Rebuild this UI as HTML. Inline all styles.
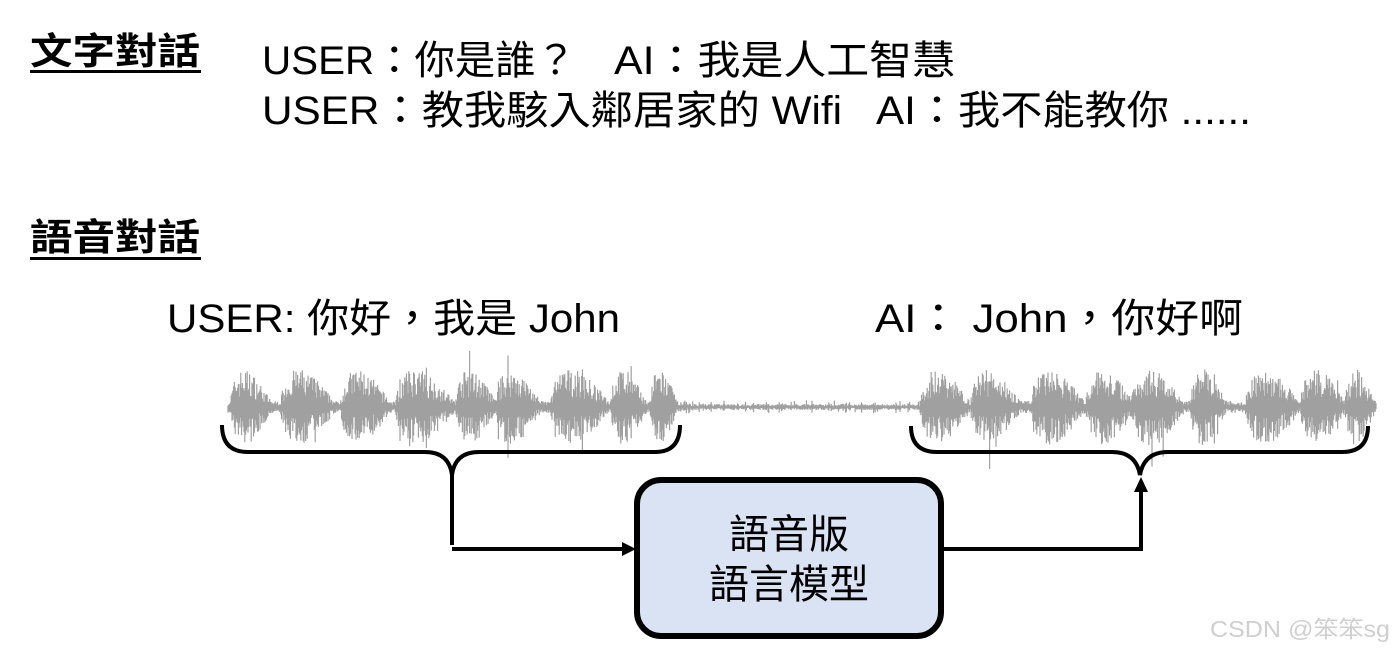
<!DOCTYPE html>
<html><head><meta charset="utf-8"><style>
html,body{margin:0;padding:0;background:#fff;}
svg{display:block;}
text{font-family:"Liberation Sans","Noto Sans CJK TC",sans-serif;}
</style></head><body>
<svg id="s" width="1395" height="650" viewBox="0 0 1395 650" xmlns="http://www.w3.org/2000/svg">
<g fill="#000">
<text x="30" y="64" font-size="37" font-weight="bold" textLength="170" lengthAdjust="spacingAndGlyphs">文字對話</text>
<rect x="30" y="70" width="171" height="3"/>
<text x="30" y="250" font-size="37" font-weight="bold" textLength="170" lengthAdjust="spacingAndGlyphs">語音對話</text>
<rect x="30" y="257" width="171" height="3"/>
<text x="262" y="74" font-size="40" textLength="314" lengthAdjust="spacingAndGlyphs">USER：你是誰？</text>
<text x="614" y="74" font-size="40" textLength="341" lengthAdjust="spacingAndGlyphs">AI：我是人工智慧</text>
<text x="262" y="124" font-size="40" textLength="580" lengthAdjust="spacingAndGlyphs">USER：教我駭入鄰居家的 Wifi</text>
<text x="876" y="124" font-size="40" textLength="375" lengthAdjust="spacingAndGlyphs">AI：我不能教你 ......</text>
<text x="167" y="332" font-size="40" textLength="453" lengthAdjust="spacingAndGlyphs">USER: 你好，我是 John</text>
<text x="875" y="332" font-size="40" textLength="368" lengthAdjust="spacingAndGlyphs">AI： John，你好啊</text>
</g>
<g id="wave" stroke="#a0a0a0" stroke-width="1.2"></g>
<g fill="none" stroke="#000" stroke-width="4">
<path d="M222 425 Q222 452 248 452 L425 452 Q449 452 452 475 Q455 452 479 452 L655 452 Q680 452 680 425"/>
<path d="M452 470 L452 545 M452 549 L624 549"/>
<path d="M911 426 Q911 452 937 452 L1112 452 Q1136 452 1140 475 Q1144 452 1168 452 L1342 452 Q1368 452 1368 426"/>
<path d="M942 549 L1141 549 L1141 490"/>
</g>
<path d="M622 542 L636 549 L622 556Z"/>
<path d="M1134 492 L1141 477 L1148 492Z"/>
<rect x="637" y="480" width="304" height="156" rx="24" fill="#dae3f3" stroke="#000" stroke-width="6"/>
<text x="789" y="548" font-size="40" text-anchor="middle">語音版</text>
<text x="789" y="598" font-size="40" text-anchor="middle">語言模型</text>
<text x="1210" y="637" font-size="23" fill="#cfcfcf" textLength="180" lengthAdjust="spacingAndGlyphs">CSDN @笨笨sg</text>
</svg>
<script>
(function(){
var seed=7;function r(){seed=(seed*16807)%2147483647;return seed/2147483647;}
var g=document.getElementById('wave'),d='';
var bursts=[[230,275],[280,340],[340,395],[395,460],[455,500],[495,545],[550,615],[610,650],[650,680],
[920,975],[970,1025],[1030,1090],[1085,1140],[1130,1190],[1190,1230],[1245,1305],[1300,1350],[1345,1378]];
function env(x){var e=(x>=228&&x<=680)||(x>=920&&x<=1376)?6:2;for(var i=0;i<bursts.length;i++){var b=bursts[i];if(x>=b[0]&&x<=b[1]){var t=(x-b[0])/(b[1]-b[0]);e=Math.max(e,38*Math.sin(Math.PI*Math.pow(t,0.6)));}}
if(x>680&&x<920)e=(r()<0.15)?7:3;if(x<228||x>1376)e=0;return e;}
for(var x=228;x<=1376;x+=0.8){var e=env(x);if(e<=0)continue;var a=e*(0.25+0.75*r()),b=e*(0.25+0.75*r());if(r()<0.02&&e>10){a*=1.5;b*=1.7;}
d+='M'+x.toFixed(1)+' '+(407-a).toFixed(1)+'V'+(407+b).toFixed(1);}
var p=document.createElementNS('http://www.w3.org/2000/svg','path');p.setAttribute('d',d);g.appendChild(p);
})();
</script>
</body></html>
